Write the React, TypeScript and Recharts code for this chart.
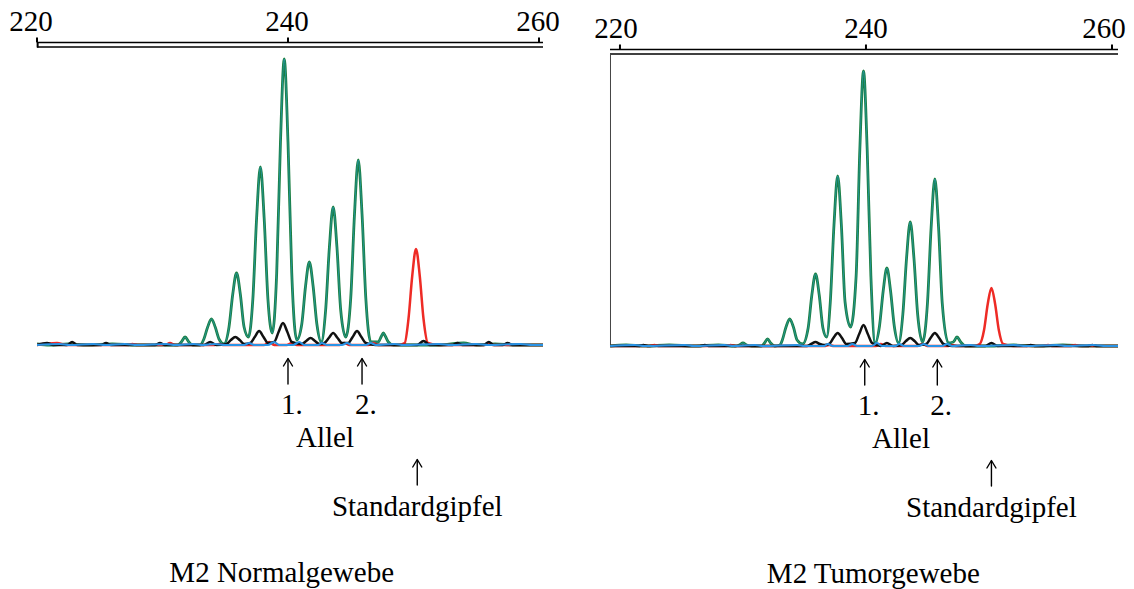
import React from "react";
import { LineChart, Line, XAxis, YAxis, ReferenceLine, ReferenceDot } from "recharts";

// ---------- data ----------
const AXIS_TICKS = [220, 240, 260];

type P = { x: number; y: number };
const pts = (a: number[][]): P[] => a.map(([x, y]) => ({ x, y }));

// Left panel: M2 Normalgewebe
const LEFT_GREEN = pts([
  [220, 1], [221, 0], [222.5, 1], [224, 0], [226, 1], [228, 0], [229.8, 0],
  [231.2, 0], [231.5, 3], [231.8, 8], [232.1, 3], [232.4, 0], [233.0, 0],
  [233.3, 6], [233.6, 18], [233.9, 26], [234.2, 18], [234.5, 6], [234.9, 1],
  [235.3, 18], [235.6, 51], [235.9, 72], [236.2, 51], [236.5, 18], [236.85, 8],
  [237.2, 46], [237.5, 127], [237.8, 178], [238.1, 127], [238.4, 46], [238.75, 12],
  [239.1, 72], [239.4, 203], [239.7, 286], [240.0, 203], [240.3, 72], [240.7, 5],
  [241.1, 21], [241.4, 59], [241.7, 83], [242.0, 59], [242.3, 21], [242.65, 3],
  [243.0, 35], [243.3, 98], [243.6, 138], [243.9, 98], [244.2, 35], [244.6, 8],
  [245.0, 47], [245.3, 131], [245.6, 185], [245.9, 131], [246.2, 47], [246.6, 3],
  [247.2, 3], [247.45, 9], [247.6, 12], [247.75, 9], [248.0, 3], [248.4, 0],
  [250, 0], [252, 0], [254, 2], [255, 0], [256.5, 1], [258, 0], [260.32, 0],
]);
const LEFT_RED = pts([
  [220, 0], [221.6, 2], [222.3, 0], [227.2, 0], [227.6, 1], [228, 0], [230.2, 0], [230.6, 2], [231, 0],
  [234.1, 0], [234.5, 1], [234.9, 0], [238.1, 0], [238.5, 3], [238.9, 0], [239.9, 0], [240.3, 2], [240.7, 0],
  [244.1, 0], [244.5, 2], [244.9, 0], [246.4, 0], [246.8, 2], [247.2, 0], [248.8, 0],
  [249.3, 2], [249.6, 26], [249.9, 69], [250.2, 96], [250.5, 69], [250.8, 26], [251.15, 2],
  [252, 0], [255.6, 0], [256, 1], [256.4, 0], [260.32, 0],
]);
const LEFT_BLACK = pts([
  [220, 0], [220.8, 2], [221.3, 0], [222.4, 0], [222.8, 3], [223.2, 0], [225.1, 0], [225.5, 2], [225.9, 0],
  [229.4, 0], [229.8, 2], [230.2, 0], [233.3, 0], [233.8, 3], [234.3, 0],
  [235.1, 1], [235.45, 5], [235.8, 8], [236.15, 5], [236.5, 1],
  [237.0, 2], [237.35, 8], [237.7, 14], [238.05, 8], [238.4, 2],
  [238.9, 3], [239.25, 13], [239.6, 22], [239.95, 13], [240.3, 3],
  [241.1, 1], [241.45, 4], [241.8, 7], [242.15, 4], [242.5, 1],
  [242.9, 2], [243.25, 7], [243.6, 12], [243.95, 7], [244.3, 2],
  [244.8, 2], [245.15, 8], [245.5, 14], [245.85, 8], [246.2, 2],
  [247, 0], [250.3, 0], [250.8, 4], [251.3, 0], [253.1, 0], [253.5, 2], [253.9, 0],
  [255.6, 0], [256.0, 3], [256.4, 0], [257.1, 0], [257.5, 2], [257.9, 0], [260.32, 0],
]);
const LEFT_BLUE = pts([
  [220, 0], [221.8, 1], [222.6, 0], [224.5, 1], [225.5, 0], [227, 1], [228, 0], [230.3, 1], [231, 0],
  [232.5, 1], [233.2, 0], [234.2, 1], [235, 0], [236.5, 0], [236.9, 2], [237.3, 0], [238.4, 0], [238.9, 3],
  [239.3, 0], [240.4, 0], [240.9, 3], [241.3, 0], [242.4, 0], [242.7, 2], [243.1, 0], [244.3, 0], [244.7, 2],
  [245.1, 0], [246.2, 0], [246.6, 2], [247.0, 0], [248.5, 1], [249.2, 0], [252, 1], [253, 0], [255, 1],
  [256, 0], [258.5, 1], [259.5, 0], [260.32, 0],
]);

// Right panel: M2 Tumorgewebe
const RIGHT_GREEN = pts([
  [219.2, 0], [220.5, 1], [222, 0], [224, 1], [226, 0], [228, 1], [229.4, 0],
  [229.7, 1], [230.0, 3], [230.3, 1], [230.7, 0], [231.5, 0], [231.75, 3], [232.0, 7], [232.25, 3], [232.6, 0],
  [233.0, 1], [233.2, 6], [233.5, 19], [233.8, 27], [234.1, 19], [234.4, 6], [234.85, 2],
  [235.3, 18], [235.6, 51], [235.9, 72], [236.2, 51], [236.5, 18], [236.8, 9],
  [237.1, 44], [237.4, 121], [237.7, 170], [238.0, 121], [238.3, 44], [238.75, 19],
  [239.2, 70], [239.5, 196], [239.8, 275], [240.1, 196], [240.4, 70], [240.75, 3],
  [241.1, 20], [241.4, 55], [241.7, 78], [242.0, 55], [242.3, 20], [242.65, 3],
  [243.0, 32], [243.3, 88], [243.6, 124], [243.9, 88], [244.2, 32], [244.6, 4],
  [245.0, 43], [245.3, 119], [245.6, 167], [245.9, 119], [246.2, 43], [246.7, 3],
  [247.1, 4], [247.4, 9], [247.7, 4], [248.1, 0], [250, 0], [252, 1], [254, 0], [256, 1], [258, 0], [260.49, 0],
]);
const RIGHT_RED = pts([
  [219.2, 0], [222.4, 0], [222.8, 1], [223.2, 0], [228.6, 0], [229.0, 1], [229.4, 0], [236.6, 0], [237.0, 1],
  [237.4, 0], [240.8, 0], [241.2, 2], [241.6, 0], [244.2, 0], [244.6, 2], [245.0, 0], [246.6, 0], [247.0, 1],
  [247.4, 0], [248.8, 0],
  [249.25, 2], [249.6, 16], [249.9, 42], [250.2, 58], [250.5, 42], [250.8, 16], [251.15, 2],
  [252, 0], [254.4, 0], [254.8, 1], [255.2, 0], [256.6, 0], [257.0, 1], [257.4, 0], [260.49, 0],
]);
const RIGHT_BLACK = pts([
  [219.2, 0], [221.5, 0], [221.9, 1], [222.3, 0], [226.5, 0], [226.9, 1], [227.3, 0],
  [235.2, 0], [235.55, 2], [235.9, 4], [236.25, 2], [236.6, 1],
  [237.0, 2], [237.35, 8], [237.7, 13], [238.05, 8], [238.4, 2],
  [239.1, 3], [239.45, 12], [239.8, 21], [240.15, 12], [240.5, 3],
  [241.2, 0], [241.7, 3], [242.2, 0], [242.9, 1], [243.25, 5], [243.6, 8], [243.95, 5], [244.3, 1],
  [244.9, 2], [245.25, 8], [245.6, 13], [245.95, 8], [246.3, 2], [247, 0],
  [249.7, 0], [250.2, 3], [250.7, 0], [253, 0], [253.4, 1], [253.8, 0], [258, 0], [258.4, 1], [258.8, 0], [260.49, 0],
]);
const RIGHT_BLUE = pts([
  [219.2, 0], [221.2, 1], [222, 0], [225.3, 1], [226, 0], [228.5, 1], [229.2, 0], [231.0, 1], [231.6, 0],
  [234.4, 1], [235, 0], [236.6, 0], [236.9, 2], [237.3, 0], [238.5, 0], [238.9, 2], [239.3, 0], [240.5, 0],
  [240.9, 3], [241.3, 0], [242.4, 0], [242.7, 2], [243.1, 0], [244.3, 0], [244.7, 2], [245.1, 0],
  [246.2, 0], [246.6, 2], [247.0, 0], [248.5, 1], [249.2, 0], [252, 1], [253, 0], [255.5, 1], [256.3, 0],
  [258.5, 1], [259.5, 0], [260.49, 0],
]);

const LEFT_ALLELES = [240.0, 245.9];
const LEFT_STANDARD = 250.3;
const RIGHT_ALLELES = [239.9, 245.8];
const RIGHT_STANDARD = 250.2;
const ALLELE_LABELS = ["1.", "2."];
const ALLELE_TEXT = "Allel";
const STANDARD_TEXT = "Standardgipfel";
const LEFT_TITLE = "M2 Normalgewebe";
const RIGHT_TITLE = "M2 Tumorgewebe";

// ---------- styling ----------
const FONT = '"Liberation Serif", "Times New Roman", Times, serif';
const FS = 29;
const GREEN = "#1b7f42";
const CYAN = "#2aa8e2";
const RED = "#ee2b25";
const BLACK = "#111111";
const BLUE = "#2a93e6";

const txt = (s: string, dx = 0, anchor: "start" | "middle" | "end" = "middle") => (p: any) => (
  <text x={p.cx + dx} y={p.cy} textAnchor={anchor} fontFamily={FONT} fontSize={FS} fill="#000">
    {s}
  </text>
);
// upward arrow symbol, drawn with its foot at the anchor point
const arrow = (p: any) => (
  <g stroke="#000" strokeWidth={1.4} fill="none" strokeLinecap="round" strokeLinejoin="round">
    <path d={`M${p.cx},${p.cy} L${p.cx},${p.cy - 25}`} />
    <path d={`M${p.cx - 4.5},${p.cy - 18} L${p.cx},${p.cy - 25.5} L${p.cx + 4.5},${p.cy - 18}`} />
  </g>
);

type PanelProps = {
  green: P[]; red: P[]; black: P[]; blue: P[];
  xMin: number; xMax: number; yMin: number; yMax: number;
  left: number; mLeft: number; mRight: number; axisH: number;
  alleles: number[]; standard: number; title: string; titleX: number;
  border: boolean; endBar: boolean; tickDx: number[];
};

function Panel(pp: PanelProps) {
  const W = 567, H = 589;
  const tick = (props: any) => (
    <text x={props.x + (pp.tickDx[props.index] || 0)} y={props.y - 4.5} textAnchor="middle"
      fontFamily={FONT} fontSize={FS} fill="#000">
      {props.payload.value}
    </text>
  );
  // annotation rows, relative to trace baseline (px-units)
  const yArrow = -39, yNum = -69, yAllel = -102, yArrow2 = -140, yStd = -171, yTitle = -237;
  const midAllele = (pp.alleles[0] + pp.alleles[1]) / 2;
  return (
    <div style={{ position: "absolute", left: pp.left, top: 0, width: W, height: H }}>
      <LineChart width={W} height={H} margin={{ top: 2, left: pp.mLeft, right: pp.mRight, bottom: 0 }}>
        <XAxis
          type="number" dataKey="x" orientation="top" domain={[pp.xMin, pp.xMax]} allowDataOverflow
          ticks={AXIS_TICKS} interval={0} height={pp.axisH} tickSize={5}
          axisLine={{ stroke: "#000", strokeWidth: 1.4 }} tickLine={{ stroke: "#000", strokeWidth: 2 }}
          tick={tick}
        />
        <YAxis type="number" hide domain={[pp.yMin, pp.yMax]} allowDataOverflow />
        <ReferenceLine y={pp.yMax - 4.5} stroke="#000" strokeWidth={1.4} ifOverflow="visible" />
        {pp.endBar && (
          <ReferenceLine segment={[{ x: pp.xMin + 0.05, y: pp.yMax }, { x: pp.xMin + 0.05, y: pp.yMax - 5 }]}
            stroke="#000" strokeWidth={2} ifOverflow="visible" />
        )}
        {pp.border && (
          <ReferenceLine segment={[{ x: pp.xMin + 0.04, y: 0 }, { x: pp.xMin + 0.04, y: pp.yMax - 4.5 }]}
            stroke="#444" strokeWidth={1} ifOverflow="visible" />
        )}
        <Line data={pp.green} dataKey="y" type="monotone" stroke={GREEN} strokeWidth={2.8} dot={false} isAnimationActive={false} />
        <Line data={pp.green} dataKey="y" type="monotone" stroke={CYAN} strokeWidth={1} strokeOpacity={0.5} dot={false} isAnimationActive={false} />
        <Line data={pp.red} dataKey="y" type="monotone" stroke={RED} strokeWidth={2.5} dot={false} isAnimationActive={false} />
        <Line data={pp.black} dataKey="y" type="monotone" stroke={BLACK} strokeWidth={2.5} dot={false} isAnimationActive={false} />
        <Line data={pp.blue} dataKey="y" type="monotone" stroke={BLUE} strokeWidth={2.2} dot={false} isAnimationActive={false} />
        {pp.alleles.map((a, i) => (
          <ReferenceDot key={"a" + i} x={a} y={yArrow} r={0} ifOverflow="visible" shape={arrow} />
        ))}
        {pp.alleles.map((a, i) => (
          <ReferenceDot key={"n" + i} x={a} y={yNum} r={0} ifOverflow="visible" shape={txt(ALLELE_LABELS[i], -7, "start")} />
        ))}
        <ReferenceDot x={midAllele} y={yAllel} r={0} ifOverflow="visible" shape={txt(ALLELE_TEXT)} />
        <ReferenceDot x={pp.standard} y={yArrow2} r={0} ifOverflow="visible" shape={arrow} />
        <ReferenceDot x={pp.standard} y={yStd} r={0} ifOverflow="visible" shape={txt(STANDARD_TEXT)} />
        <ReferenceDot x={pp.titleX} y={yTitle} r={0} ifOverflow="visible" shape={txt(pp.title)} />
      </LineChart>
    </div>
  );
}

export default function App() {
  return (
    <div style={{ position: "absolute", left: 0, top: 0, width: 1134, height: 589, background: "#fff" }}>
      <Panel
        green={LEFT_GREEN} red={LEFT_RED} black={LEFT_BLACK} blue={LEFT_BLUE}
        xMin={220} xMax={260.32} yMin={-244} yMax={302.5}
        left={0} mLeft={37} mRight={24} axisH={40.5}
        alleles={LEFT_ALLELES} standard={LEFT_STANDARD} title={LEFT_TITLE} titleX={239.5}
        border={false} endBar={true} tickDx={[-6, -1, -1]}
      />
      <Panel
        green={RIGHT_GREEN} red={RIGHT_RED} black={RIGHT_BLACK} blue={RIGHT_BLUE}
        xMin={219.19} xMax={260.49} yMin={-243} yMax={296.5}
        left={567} mLeft={43} mRight={16} axisH={47.5}
        alleles={RIGHT_ALLELES} standard={RIGHT_STANDARD} title={RIGHT_TITLE} titleX={240.6}
        border={true} endBar={false} tickDx={[-4, 0, -8]}
      />
    </div>
  );
}
